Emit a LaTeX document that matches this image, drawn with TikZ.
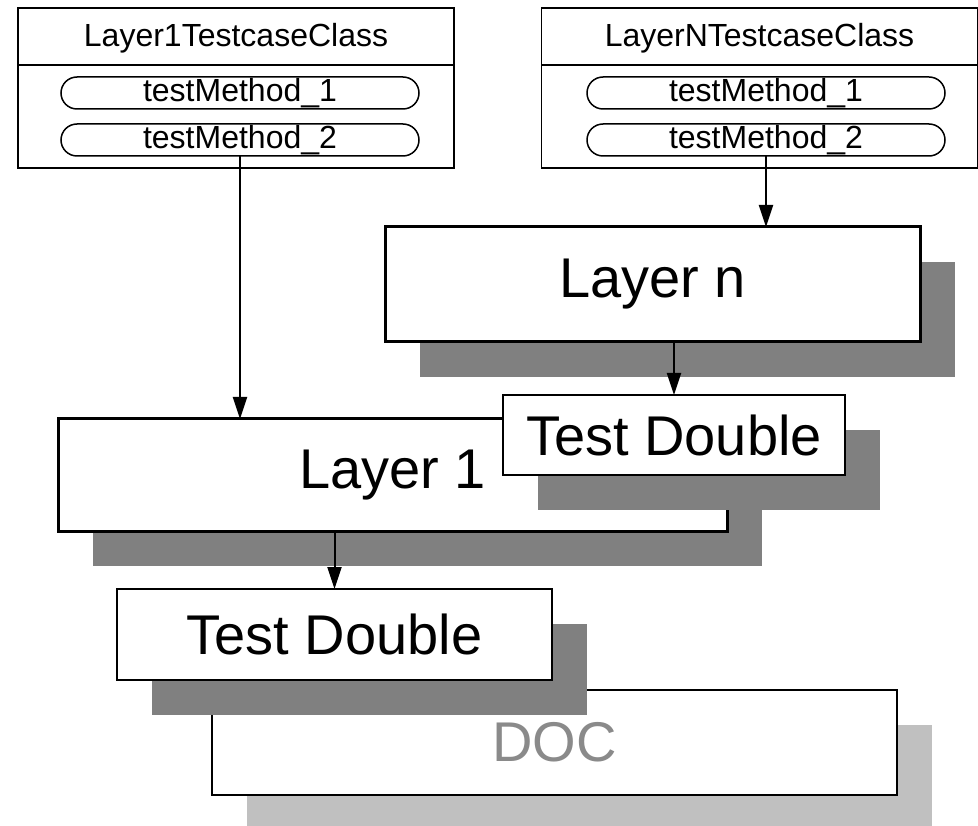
\documentclass[tikz,border=0pt]{standalone}
\usepackage{fontspec}
\setmainfont{Liberation Sans}
\usetikzlibrary{arrows.meta,shadows}

\definecolor{shadowgray}{HTML}{808080}
\definecolor{docshadow}{HTML}{C0C0C0}
\definecolor{doctext}{HTML}{8A8A8A}

\begin{document}
\begin{tikzpicture}[x=1pt, y=-1pt,
    bigtext/.style={font=\fontsize{56}{62}\selectfont},
    smalltext/.style={font=\fontsize{32}{36}\selectfont},
    layerbox/.style={draw, fill=white, line width=3pt, inner sep=0pt, outer sep=0pt, bigtext,
        general shadow={fill=shadowgray, shadow xshift=35pt, shadow yshift=-35pt}},
    doublebox/.style={layerbox, line width=2pt},
    docbox/.style={draw, fill=white, line width=1.5pt, inner sep=0pt, outer sep=0pt, bigtext, text=doctext,
        general shadow={fill=docshadow, shadow xshift=35pt, shadow yshift=-35pt}},
    classbox/.style={draw, fill=white, line width=1.5pt, inner sep=0pt, outer sep=0pt,
        minimum width=436pt, minimum height=160pt},
    methodpill/.style={draw, line width=1.5pt, rounded corners=16pt, inner sep=0pt, outer sep=0pt,
        minimum width=358pt, minimum height=32pt, smalltext},
    link/.style={line width=2pt, -{Triangle[length=22pt, width=14pt]}}]
    \useasboundingbox (0,0) rectangle (978,826);

    % Depended-on component
    \node[docbox, minimum width=685pt, minimum height=105pt] (doc) at (554.5,742.5) {DOC};

    % Layers and their test doubles
    \node[layerbox, minimum width=669pt, minimum height=112pt] (layer1) at (392.5,475) {Layer 1};
    \node[doublebox, minimum width=342pt, minimum height=80pt] (doubleN) at (674,435) {Test Double};
    \node[doublebox, minimum width=435pt, minimum height=91pt] (double1) at (334.5,634.5) {Test Double};
    \node[layerbox, minimum width=535pt, minimum height=115pt] (layerN) at (652.5,284.5) {Layer n};

    % Testcase classes
    \node[classbox] (class1) at (236,88) {};
    \draw[line width=1.5pt] (class1.west |- 0,65) -- (class1.east |- 0,65);
    \node[smalltext] (class1name) at (236,38) {Layer1TestcaseClass};
    \node[methodpill] (class1m1) at (240,93) {testMethod\_1};
    \node[methodpill] (class1m2) at (240,140) {testMethod\_2};

    \node[classbox] (classN) at (759.5,88) {};
    \draw[line width=1.5pt] (classN.west |- 0,65) -- (classN.east |- 0,65);
    \node[smalltext] (classNname) at (759.5,38) {LayerNTestcaseClass};
    \node[methodpill] (classNm1) at (766,93) {testMethod\_1};
    \node[methodpill] (classNm2) at (766,140) {testMethod\_2};

    % Arrows
    \draw[link] (class1m2.south) -- (class1m2.south |- layer1.north);
    \draw[link] (classNm2.south) -- (classNm2.south |- layerN.north);
    \draw[link] (doubleN.north |- layerN.south) -- (doubleN.north);
    \draw[link] (double1.north |- layer1.south) -- (double1.north);
\end{tikzpicture}
\end{document}
